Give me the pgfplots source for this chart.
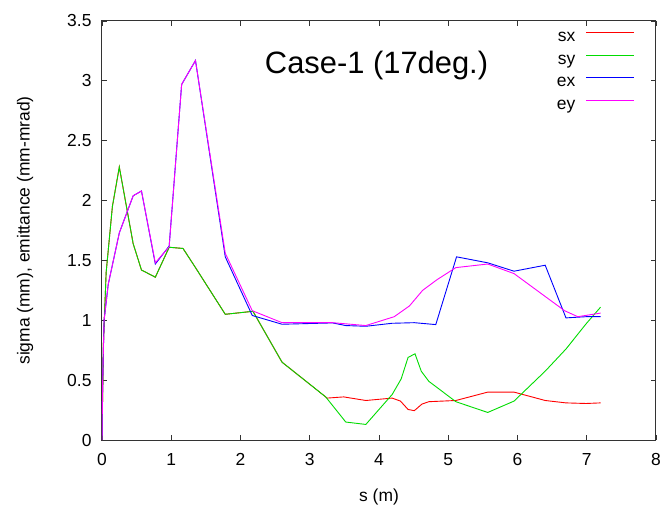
\documentclass[border=0pt]{standalone}
\usepackage{fontspec}
\setmainfont{Liberation Sans}
\usepackage{pgfplots}
\pgfplotsset{compat=1.18}

\definecolor{gpred}{RGB}{255,0,0}
\definecolor{gpgreen}{RGB}{0,220,0}
\definecolor{gpblue}{RGB}{0,0,255}
\definecolor{gpmag}{RGB}{255,0,255}

\begin{document}
\begin{tikzpicture}
\begin{axis}[
    scale only axis,
    width=554bp, height=419bp,
    xmin=0, xmax=8, ymin=0, ymax=3.5,
    xtick={0,1,...,8},
    ytick={0,0.5,...,3.5},
    tick align=inside,
    major tick length=4.7bp,
    axis line style={line width=1bp, black!80},
    every tick/.style={black!80, line width=0.8bp},
    /pgf/number format/assume math mode=true,
    tick label style={font=\fontsize{17.5}{20}\selectfont},
    yticklabel style={xshift=-7bp},
    xticklabel style={yshift=-10bp},
    label style={font=\fontsize{17.5}{20}\selectfont},
    xlabel={s (m)},
    ylabel={sigma (mm), emittance (mm-mrad)},
    xlabel style={at={(axis description cs:0.5,0)}, anchor=center, yshift=-57bp},
    ylabel style={at={(axis description cs:0,0.5)}, anchor=center, yshift=77bp},
    legend plot pos=right,
    legend cell align=right,
    legend style={draw=none, fill=none, inner sep=0pt,
        at={(rel axis cs:0.962,0.982)}, anchor=north east,
        font=\fontsize{17.5}{20}\selectfont,
        column sep=10.6bp, row sep=6.8bp,
        nodes={inner sep=0pt, text height=12.5bp, text depth=3.5bp}},
    legend image code/.code={\draw[#1] (0bp,4.5bp) -- (48bp,4.5bp);},
    every axis plot/.append style={line width=0.9bp},
]
% sx
\addplot[gpred] coordinates {
(0,0) (0.02,0.8) (0.06,1.4) (0.15,1.95) (0.25,2.28) (0.45,1.64) (0.57,1.42)
(0.77,1.36) (0.97,1.61) (1.17,1.60) (1.35,1.44) (1.78,1.05) (2.18,1.075)
(2.6,0.65) (3.23,0.36) (3.25,0.35) (3.49,0.36) (3.81,0.33) (4.19,0.35)
(4.31,0.325) (4.42,0.255) (4.51,0.245) (4.62,0.30) (4.72,0.32) (5.11,0.33)
(5.57,0.40) (5.95,0.40) (6.40,0.33) (6.70,0.31) (6.99,0.305) (7.2,0.31)
};
% sy
\addplot[gpgreen] coordinates {
(0,0) (0.02,0.8) (0.06,1.4) (0.15,1.95) (0.25,2.28) (0.45,1.64) (0.57,1.42)
(0.77,1.36) (0.97,1.61) (1.17,1.60) (1.35,1.44) (1.78,1.05) (2.18,1.075)
(2.6,0.65) (3.23,0.36) (3.52,0.15) (3.81,0.13) (4.19,0.38) (4.32,0.51)
(4.42,0.69) (4.52,0.72) (4.61,0.575) (4.72,0.49) (5.11,0.32) (5.57,0.23)
(5.95,0.325) (6.40,0.575) (6.70,0.76) (6.99,0.97) (7.2,1.11)
};
% ex
\addplot[gpblue] coordinates {
(0,0) (0.01,0.5) (0.03,1.0) (0.09,1.3) (0.25,1.73) (0.45,2.04) (0.57,2.08)
(0.77,1.47) (0.97,1.62) (1.15,2.97) (1.35,3.17) (1.78,1.53) (2.17,1.04)
(2.6,0.967) (3.33,0.978) (3.52,0.956) (3.81,0.95) (4.19,0.975) (4.51,0.98)
(4.82,0.964) (5.12,1.53) (5.57,1.48) (5.95,1.41) (6.40,1.46) (6.70,1.02)
(6.99,1.03) (7.2,1.03)
};
% ey
\addplot[gpmag] coordinates {
(0,0) (0.01,0.5) (0.03,1.0) (0.09,1.3) (0.25,1.73) (0.45,2.04) (0.57,2.08)
(0.77,1.48) (0.97,1.615) (1.15,2.97) (1.35,3.17) (1.78,1.56) (2.17,1.08)
(2.6,0.98) (3.33,0.98) (3.81,0.956) (4.22,1.03) (4.44,1.12) (4.63,1.25)
(4.84,1.34) (5.11,1.44) (5.57,1.47) (5.95,1.39) (6.68,1.08) (6.87,1.03)
(7.2,1.06)
};
\legend{sx,sy,ex,ey}
\node[anchor=base, font=\fontsize{31}{34}\selectfont] at (axis cs:3.965,3.063) {Case-1 (17deg.)};
\end{axis}
\pgfresetboundingbox
\path (-102bp,-65bp) rectangle (562bp,440bp);
\end{tikzpicture}
\end{document}
